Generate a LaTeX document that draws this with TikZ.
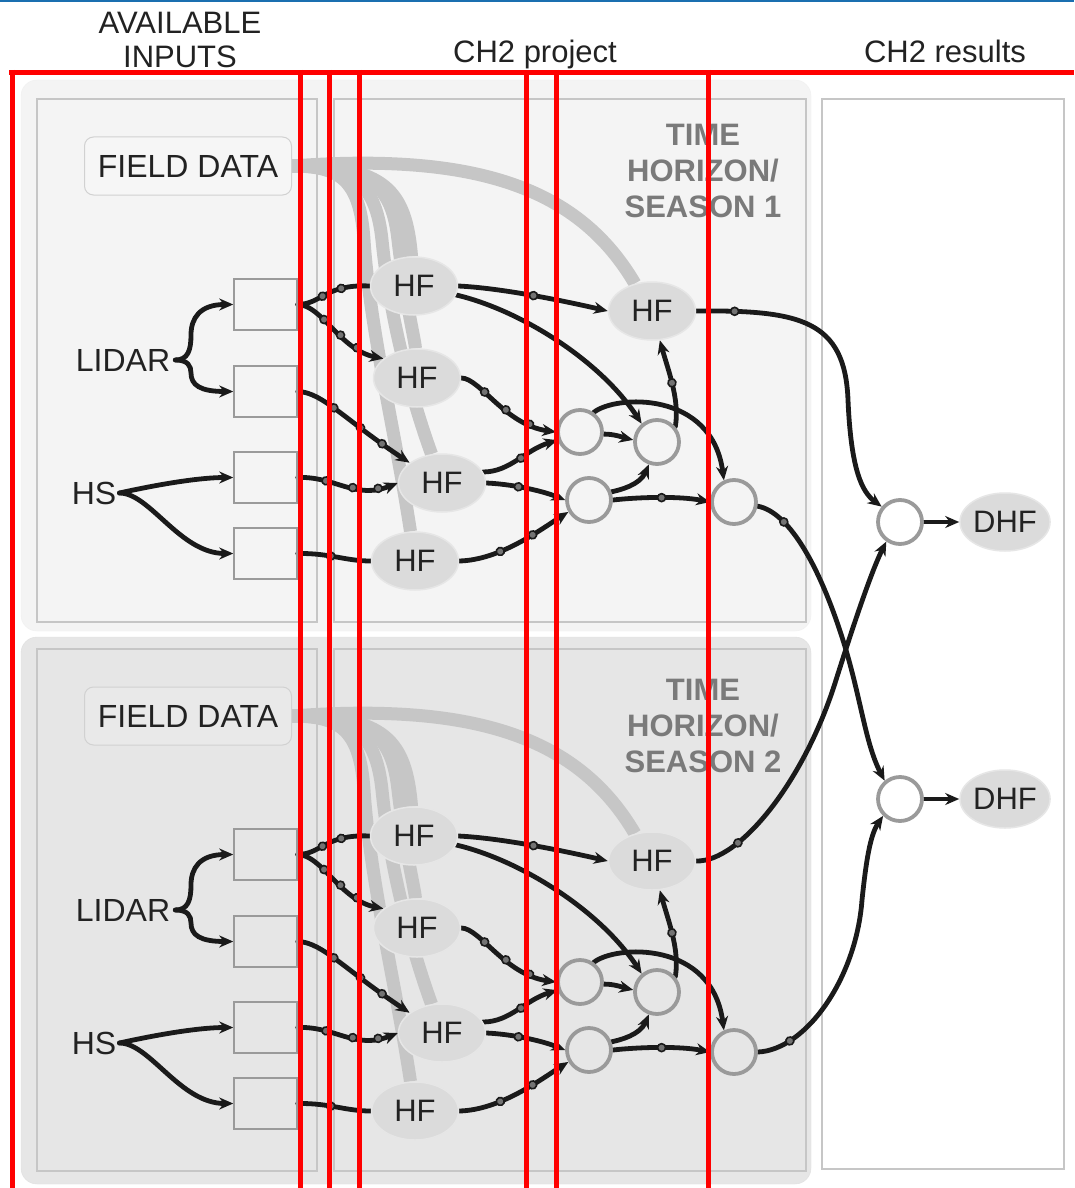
\documentclass[tikz,border=0pt]{standalone}
\usepackage{fontspec}
\setmainfont{Liberation Sans}
\usetikzlibrary{shapes.geometric,arrows.meta,decorations.markings}
\pgfdeclarelayer{back}
\pgfdeclarelayer{bands}
\pgfdeclarelayer{lines}
\pgfdeclarelayer{front}
\pgfsetlayers{back,bands,lines,main,front}
\definecolor{panelA}{HTML}{F4F4F4}
\definecolor{panelB}{HTML}{E6E6E6}
\definecolor{fdA}{HTML}{F6F6F6}
\definecolor{fdB}{HTML}{E9E9E9}
\definecolor{rim}{HTML}{C6C6C6}
\definecolor{band}{HTML}{C6C6C6}
\definecolor{hffill}{HTML}{DBDBDB}
\definecolor{hfrim}{HTML}{E6E6E6}
\definecolor{ring}{HTML}{9A9A9A}
\definecolor{boxrim}{HTML}{9A9A9A}
\definecolor{ink}{HTML}{1A1A1A}
\definecolor{txt}{HTML}{222222}
\definecolor{timegray}{HTML}{7A7A7A}
\definecolor{redline}{HTML}{FF0000}
\definecolor{blueline}{HTML}{1A6FB0}
\begin{document}
\begin{tikzpicture}[x=1pt,y=-1pt,
  hdr/.style={font=\fontsize{31}{34}\selectfont, text=txt, inner sep=0, align=center},
  lbl/.style={font=\fontsize{32}{34}\selectfont, text=txt, inner sep=0},
  hfnode/.style={ellipse, fill=hffill, draw=hfrim, line width=1.5pt, minimum width=87, minimum height=58, inner sep=0, font=\fontsize{31}{34}\selectfont, text=txt},
  cnode/.style={circle, fill=#1, draw=ring, line width=3.8pt, minimum size=44, inner sep=0},
  bx/.style={rectangle, draw=boxrim, line width=1.5pt, minimum width=63, minimum height=51, inner sep=0},
  fdbox/.style={rectangle, rounded corners=9pt, draw=black!18, line width=1pt, fill=#1, minimum width=207, minimum height=58, inner sep=0, font=\fontsize{32}{34}\selectfont, text=txt},
  timelbl/.style={font=\bfseries\fontsize{31}{36}\selectfont, text=timegray, align=center, inner sep=0},
  bandl/.style={draw=band, line width=13pt},
  conn/.style={draw=ink, line width=4.8pt, line cap=round},
  arr/.style={conn, -{Stealth[length=14pt,width=12pt]}},
  mk/.style={postaction={decorate,decoration={markings,mark=at position #1 with {\filldraw[draw=ink,fill=black!55,line width=1.6pt] (0,0) circle (4);}}}}
]
\useasboundingbox (0,0) rectangle (1074,1188);
\begin{pgfonlayer}{back}
  \fill[white] (0,0) rectangle (1074,1188);
  \fill[blueline] (0,0) rectangle (1074,2);
  \filldraw[fill=panelA, draw=black!6, rounded corners=16pt] (21,80) rectangle (811,631);
  \filldraw[fill=panelB, draw=black!12, rounded corners=16pt] (21,637) rectangle (811,1184);
  \filldraw[fill=panelA, draw=rim, line width=1.8pt] (37,99) rectangle (317,622);
  \filldraw[fill=panelA, draw=rim, line width=1.8pt] (334,99) rectangle (806,622);
  \filldraw[fill=panelB, draw=rim, line width=1.8pt] (37,649) rectangle (317,1171);
  \filldraw[fill=panelB, draw=rim, line width=1.8pt] (334,649) rectangle (806,1171);
  \filldraw[fill=white, draw=rim, line width=1.8pt] (822,99) rectangle (1064,1169);
\end{pgfonlayer}

\node[hdr] (hin) at (180,40) {AVAILABLE\\INPUTS};
\node[hdr, anchor=base] (hpr) at (535,63) {CH2 project};
\node[hdr, anchor=base] (hres) at (945,63) {CH2 results};

\foreach \s/\o/\ty/\sn/\pf/\ff in {a/0/171/1/panelA/fdA, b/550/176/2/panelB/fdB}{
 \begin{scope}[yshift=-\o pt]
  \node[fdbox=\ff] (fd\s) at (188,166) {FIELD DATA};
  \node[lbl] (lidar\s) at (123,360) {LIDAR};
  \node[lbl] (hs\s) at (94,493) {HS};
  \node[bx] (b1\s) at (265.5,304.5) {};
  \node[bx] (b2\s) at (265.5,391.5) {};
  \node[bx] (b3\s) at (265.5,477.5) {};
  \node[bx] (b4\s) at (265.5,553.5) {};
  \node[hfnode] (hf1\s) at (414,286) {HF};
  \node[hfnode] (hf2\s) at (417,378) {HF};
  \node[hfnode] (hf3\s) at (442,483) {HF};
  \node[hfnode] (hf4\s) at (415,561) {HF};
  \node[hfnode] (hft\s) at (652,311) {HF};
  \node[timelbl] (time\s) at (703,\ty) {TIME\\HORIZON/\\SEASON \sn};
  \node[cnode=\pf] (ca\s) at (580,432) {};
  \node[cnode=\pf] (cb\s) at (657,442) {};
  \node[cnode=\pf] (cc\s) at (589,500) {};
  \node[cnode=\pf] (cd\s) at (734,502) {};
  \begin{pgfonlayer}{bands}
   \draw[bandl] (fd\s.east) .. controls (480,152) and (580,190) .. (hft\s.122);
   \draw[bandl] (fd\s.east) .. controls (340,166) and (360,180) .. (364,240) .. controls (370,330) and (395,430) .. (hf4\s);
   \draw[bandl] (fd\s.east) .. controls (355,166) and (376,185) .. (382,240) .. controls (390,320) and (412,400) .. (hf3\s);
   \draw[bandl] (fd\s.east) .. controls (370,166) and (392,185) .. (398,240) .. controls (405,300) and (415,340) .. (hf2\s);
   \draw[bandl] (fd\s.east) .. controls (385,166) and (406,190) .. (hf1\s);
  \end{pgfonlayer}
  \begin{pgfonlayer}{lines}
   \draw[arr] ([xshift=5pt]lidar\s.east) .. controls (188,360) and (191,350) .. (191,335) .. controls (191,318) and (200,304.5) .. (b1\s.west);
   \draw[arr] ([xshift=5pt]lidar\s.east) .. controls (188,360) and (191,366) .. (191,373) .. controls (191,385) and (200,391.5) .. (b2\s.west);
   \draw[arr] ([xshift=3pt]hs\s.east) .. controls (160,484) and (200,477.5) .. (b3\s.west);
   \draw[arr] ([xshift=3pt]hs\s.east) .. controls (150,493) and (180,553.5) .. (b4\s.west);
   \draw[conn, mk=0.35, mk=0.62] (b1\s.east) .. controls (322,304) and (325,284) .. (hf1\s.west);
   \draw[arr, mk=0.3, mk=0.52, mk=0.72] (b1\s.east) .. controls (322,305) and (340,350) .. (hf2\s.150);
   \draw[arr, mk=0.3, mk=0.55, mk=0.75] (b2\s.east) .. controls (322,392) and (345,420) .. (hf3\s.148);
   \draw[arr, mk=0.28, mk=0.55, mk=0.8] (b3\s.east) .. controls (335,476) and (355,500) .. (hf3\s.west);
   \draw[conn, mk=0.45] (b4\s.east) .. controls (330,553) and (345,561) .. (hf4\s.west);
   \draw[arr, mk=0.5] (hf1\s.east) .. controls (500,288) and (560,300) .. (hft\s.west);
   \draw[arr] (hf1\s.-12) .. controls (520,310) and (600,360) .. (cb\s.130);
   \draw[arr, mk=0.25, mk=0.5, mk=0.75] (hf2\s.east) .. controls (480,378) and (505,425) .. (ca\s.west);
   \draw[arr, mk=0.5] (hf3\s.15) .. controls (510,472) and (525,450) .. (ca\s.200);
   \draw[arr, mk=0.4] (hf3\s.east) .. controls (510,484) and (540,490) .. (cc\s.west);
   \draw[arr, mk=0.35, mk=0.65] (hf4\s.east) .. controls (500,560) and (540,530) .. (cc\s.210);
   \draw[arr] (ca\s.-5) .. controls (615,434) and (625,438) .. (cb\s.175);
   \draw[arr] (ca\s.55) .. controls (615,395) and (712,390) .. (cd\s.115);
   \draw[arr] (cc\s.20) .. controls (620,490) and (640,485) .. (cb\s.250);
   \draw[arr, mk=0.5] (cc\s.east) .. controls (640,497) and (680,496) .. (cd\s.west);
   \draw[arr, mk=0.5] (cb\s.40) .. controls (680,400) and (668,370) .. (hft\s.-75);
  \end{pgfonlayer}
 \end{scope}
}

\node[cnode=white] (ce1) at (900,522) {};
\node[cnode=white] (ce2) at (900,799) {};
\node[hfnode, minimum width=90, minimum height=58, font=\fontsize{31}{34}\selectfont] (dhf1) at (1005,522) {DHF};
\node[hfnode, minimum width=90, minimum height=58, font=\fontsize{31}{34}\selectfont] (dhf2) at (1005,799) {DHF};

\begin{pgfonlayer}{lines}
  \draw[arr, mk=0.12] (hfta.east) .. controls (800,310) and (845,320) .. (848,400) .. controls (851,470) and (862,492) .. (ce1.140);
  \draw[arr, mk=0.1] (cda.-10) .. controls (790,512) and (822,570) .. (846,650) .. controls (862,705) and (866,745) .. (ce2.130);
  \draw[arr, mk=0.12] (hftb.east) .. controls (740,862) and (805,780) .. (836,680) .. controls (855,620) and (872,570) .. (ce1.235);
  \draw[arr, mk=0.12] (cdb.east) .. controls (805,1050) and (856,980) .. (862,900) .. controls (866,862) and (870,835) .. (ce2.225);
  \draw[arr] (ce1.east) -- (dhf1.west);
  \draw[arr] (ce2.east) -- (dhf2.west);
\end{pgfonlayer}

\begin{pgfonlayer}{front}
  \draw[redline, line width=5pt] (9,72.5) -- (1074,72.5);
  \foreach \x in {12,300,329,359,526,556,708}
    \draw[redline, line width=5pt] (\x,70) -- (\x,1188);
\end{pgfonlayer}
\end{tikzpicture}
\end{document}
